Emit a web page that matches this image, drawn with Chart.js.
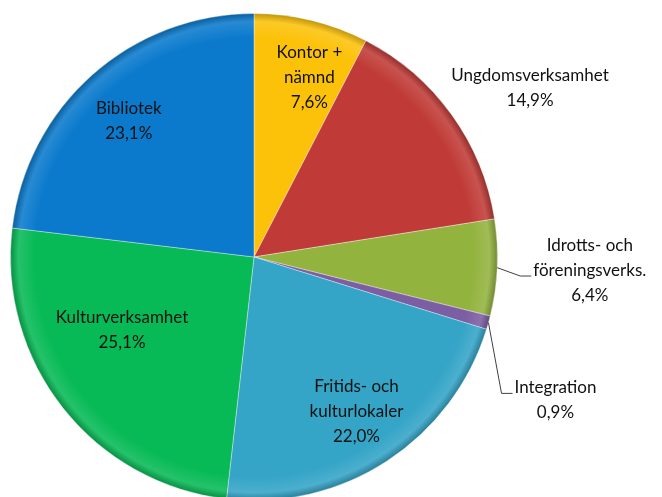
<!DOCTYPE html>
<html>
<head>
<meta charset="utf-8">
<script src="https://cdn.jsdelivr.net/npm/chart.js@4.4.0/dist/chart.umd.min.js"></script>
<style>
    html, body { margin: 0; padding: 0; background: #fff; overflow: hidden; }
    #wrap { position: relative; width: 662px; height: 504px; }
</style>
</head>
<body>
<div id="wrap"><canvas id="pieChart"></canvas></div>
<script>
// slices, clockwise from 12 o'clock
const categories = ['Kontor + nämnd', 'Ungdomsverksamhet', 'Idrotts- och föreningsverks.', 'Integration', 'Fritids- och kulturlokaler', 'Kulturverksamhet', 'Bibliotek'];
const labelLines = [['Kontor +', 'nämnd'], ['Ungdomsverksamhet'], ['Idrotts- och', 'föreningsverks.'], ['Integration'], ['Fritids- och', 'kulturlokaler'], ['Kulturverksamhet'], ['Bibliotek']];
const shares = [7.6, 14.9, 6.4, 0.9, 22.0, 25.1, 23.1];
const colors = ['#FCC20A', '#C03B37', '#93B33F', '#7C5EA3', '#34A4C7', '#07BA56', '#0B7ACD'];

// where each label sits: fraction of radius, angle shift (deg), leader line
const labelPos = [
    { r: 0.77, da: 3.5 },
    { r: 1.33, da: 4.3 },
    { r: 1.38, da: -0.3, leader: true, leaderLine: 1 },
    { r: 1.37, da: 9.7, leader: true, leaderLine: 0 },
    { r: 0.76, da: -0.5 },
    { r: 0.62, da: 9.3 },
    { r: 0.76, da: -1.0 }
];

function shade(hex, amt) {
    const n = parseInt(hex.slice(1), 16);
    let r = (n >> 16) & 255, g = (n >> 8) & 255, b = n & 255;
    const f = c => Math.max(0, Math.min(255, Math.round(amt >= 0 ? c + (255 - c) * amt : c * (1 + amt))));
    return `rgb(${f(r)},${f(g)},${f(b)})`;
}

function fillFor(context) {
    const base = colors[context.dataIndex];
    const area = context.chart.chartArea;
    if (!area) return base;
    const cx = (area.left + area.right) / 2, cy = (area.top + area.bottom) / 2;
    const rad = Math.min(area.right - area.left, area.bottom - area.top) / 2;
    const g = context.chart.ctx.createRadialGradient(cx, cy, 0, cx, cy, rad);
    g.addColorStop(0, base);
    g.addColorStop(0.9, base);
    g.addColorStop(0.965, shade(base, 0.12));
    g.addColorStop(1, shade(base, -0.25));
    return g;
}

const sliceLabels = {
    id: 'sliceLabels',
    afterDatasetsDraw(chart) {
        const ctx = chart.ctx;
        const meta = chart.getDatasetMeta(0);
        ctx.save();
        ctx.font = '17px Lato, "Open Sans", sans-serif';
        ctx.fillStyle = '#111';
        ctx.textAlign = 'center';
        ctx.textBaseline = 'middle';
        const lh = 25;
        meta.data.forEach((arc, i) => {
            const p = labelPos[i];
            const mid = (arc.startAngle + arc.endAngle) / 2 + p.da * Math.PI / 180;
            const lx = arc.x + Math.cos(mid) * arc.outerRadius * p.r;
            const ly = arc.y + Math.sin(mid) * arc.outerRadius * p.r;
            const lines = labelLines[i].concat([shares[i].toFixed(1).replace('.', ',') + '%']);
            const top = ly - (lines.length - 1) * lh / 2;
            lines.forEach((t, k) => ctx.fillText(t, lx, top + k * lh));
            if (p.leader) {
                const a0 = (arc.startAngle + arc.endAngle) / 2;
                const sx = arc.x + Math.cos(a0) * arc.outerRadius;
                const sy = arc.y + Math.sin(a0) * arc.outerRadius;
                const w = ctx.measureText(lines[p.leaderLine]).width;
                const ty = top + p.leaderLine * lh + 6;
                const tx = lx - w / 2 - 2;
                ctx.beginPath();
                ctx.strokeStyle = '#404040';
                ctx.lineWidth = 1;
                ctx.moveTo(sx, sy);
                ctx.lineTo(tx - 11, ty);
                ctx.lineTo(tx, ty);
                ctx.stroke();
            }
        });
        ctx.restore();
    }
};

new Chart(document.getElementById('pieChart'), {
    type: 'pie',
    data: {
        labels: categories,
        datasets: [{
            data: shares,
            backgroundColor: fillFor,
            borderColor: 'rgba(255,255,255,0.35)',
            borderWidth: 1
        }]
    },
    options: {
        responsive: true,
        maintainAspectRatio: false,
        animation: false,
        layout: { padding: { left: 10, right: 164, top: 13, bottom: 3 } },
        plugins: {
            legend: { display: false },
            tooltip: { enabled: false }
        }
    },
    plugins: [sliceLabels]
});
</script>
</body>
</html>
